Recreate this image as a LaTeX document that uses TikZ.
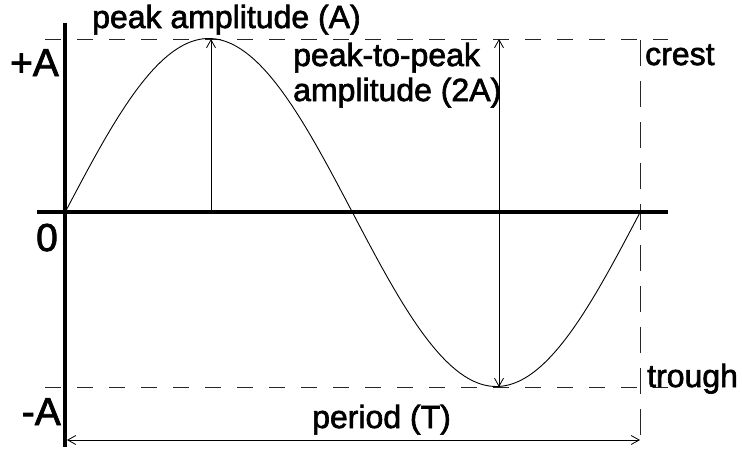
\documentclass[tikz,border=0pt]{standalone}
\usepackage{fontspec}
\setmainfont{Liberation Sans}[FakeBold=2]
\usetikzlibrary{arrows.meta}
\begin{document}
\begin{tikzpicture}[x=1pt,y=-1pt,
  axisline/.style={line width=3.5pt},
  guide/.style={line width=0.9pt,dash pattern=on 16pt off 16pt,black!85},
  vguide/.style={line width=0.9pt,dash pattern=on 26pt off 15pt,black!85},
  wave/.style={line width=0.9pt},
  dim/.style={line width=0.8pt,arrows={Straight Barb[length=8pt,width=9pt]-Straight Barb[length=8pt,width=9pt]}},
  dimone/.style={line width=0.8pt,-{Straight Barb[length=8pt,width=9pt]}},
  lbl/.style={font=\fontsize{32}{35}\selectfont,inner sep=0pt},
  biglbl/.style={font=\fontsize{39}{41}\selectfont,inner sep=0pt}]
\useasboundingbox (0,0) rectangle (742,448);
% coordinates
\coordinate (ytop) at (65,23);
\coordinate (ybot) at (65,447);
\coordinate (xl) at (37,212);
\coordinate (xr) at (668,212);
\coordinate (tl) at (45,39);
\coordinate (tr) at (668,39);
\coordinate (bl) at (45,387);
\coordinate (br) at (668,387);
\coordinate (vt) at (640,40);
\coordinate (vb) at (640,447);
\coordinate (pk0) at (211,212);
\coordinate (pk1) at (211,39);
\coordinate (pp0) at (499,39);
\coordinate (pp1) at (499,387);
\coordinate (per0) at (67,440);
\coordinate (per1) at (640,440);
% dashed guides
\draw[guide] (tl) -- (tr);
\draw[guide] (bl) -- (br);
\draw[vguide] (vt) -- (vb);
% wave
\draw[wave,domain=0:360,samples=181,variable=\t] plot ({65+1.597222*\t},{212.5-174*sin(\t)});
% axes
\draw[axisline] (xl) -- (xr);
\draw[axisline] (ytop) -- (ybot);
% dimension arrows
\draw[dimone] (pk0) -- (pk1);
\draw[dim] (pp0) -- (pp1);
\draw[dim] (per0) -- (per1);
% labels
\node[lbl,anchor=base west] (pa) at (92,28) {peak amplitude (A)};
\node[lbl,anchor=base west,align=left] (ppa) at (293,101) {peak-to-peak\\amplitude (2A)};
\node[lbl,anchor=base west] (cr) at (645,65) {crest};
\node[lbl,anchor=base west] (tro) at (647,387) {trough};
\node[lbl,anchor=base west] (per) at (312,428) {period (T)};
\node[biglbl,anchor=base east] (pA) at (59,76) {+A};
\node[biglbl,anchor=base east] (zero) at (58,251) {0};
\node[biglbl,anchor=base east] (mA) at (61,425) {-A};
\end{tikzpicture}
\end{document}
